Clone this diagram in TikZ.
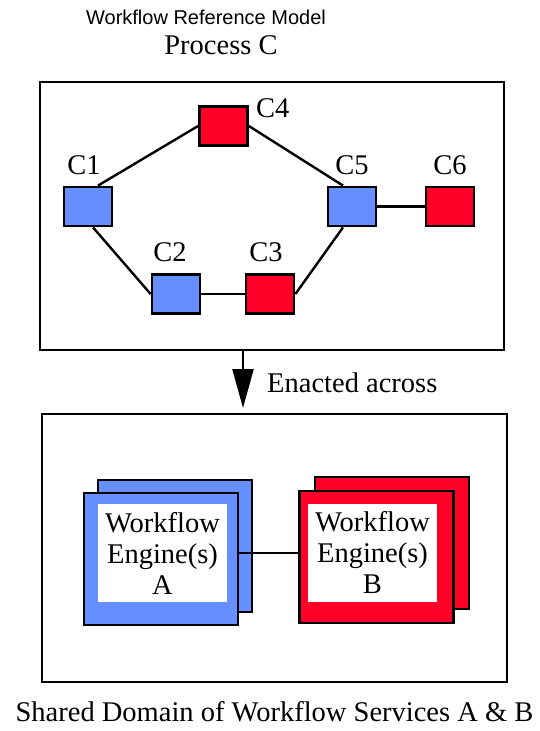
\documentclass[tikz,border=0pt]{standalone}
\usepackage{fontspec}
\setmainfont{Liberation Serif}
\newfontfamily\titelfont{Liberation Sans}
\usetikzlibrary{arrows.meta,positioning}
\definecolor{aktblaa}{RGB}{102,143,255}
\definecolor{aktroed}{RGB}{255,0,41}
\tikzset{
    akt/.style={
           rectangle,
           draw=black, line width=2.8pt,
           minimum width=48pt,
           minimum height=39pt,
           inner sep=0pt},
    blaa/.style={akt, fill=aktblaa},
    roed/.style={akt, fill=aktroed},
    ramme/.style={
           rectangle,
           draw=black, line width=2.8pt,
           inner sep=0pt},
    motor/.style={
           rectangle,
           draw=black, line width=2.8pt,
           minimum width=154pt,
           minimum height=132pt,
           inner sep=0pt},
    motortekst/.style={
           fill=white,
           minimum width=129pt,
           minimum height=98pt,
           inner sep=0pt,
           align=center,
           font=\fontsize{28.5}{31}\selectfont},
    lbl/.style={
           inner sep=1pt,
           font=\fontsize{28.5}{31}\selectfont},
    linje/.style={
           line width=2.4pt},
    pil/.style={
           -{Triangle[width=21pt,length=39pt]},
           line width=2.4pt}
}
\begin{document}
\begin{tikzpicture}[x=1pt, y=-1pt]
        \useasboundingbox (0,0) rectangle (539,731);
        \node[font=\titelfont\fontsize{20}{24}\selectfont] (titel) at (206,17) {Workflow Reference Model};
        \node[lbl] (proces) at (221,45) {Process C};
        % process C
        \node[ramme, minimum width=464pt, minimum height=268pt] (top) at (272,216) {};
        \node[blaa, label={[lbl, label distance=10pt, xshift=-4pt]above:C1}] (C1) at (88,206.5) {};
        \node[blaa, label={[lbl, label distance=10pt, xshift=-6pt]above:C2}] (C2) at (176,294) {};
        \node[roed, label={[lbl, label distance=10pt, xshift=-4pt]above:C3}] (C3) at (270,294) {};
        \node[roed, label={[lbl, anchor=west, label distance=6pt, yshift=18pt]east:C4}] (C4) at (223.5,126) {};
        \node[blaa, label={[lbl, label distance=10pt]above:C5}] (C5) at (352,206.5) {};
        \node[roed, label={[lbl, label distance=10pt]above:C6}] (C6) at (450,206.5) {};
        \draw[linje] ([xshift=10pt]C1.north) -- (C4.west);
        \draw[linje] (C4.east) -- ([xshift=-9pt]C5.north);
        \draw[linje] ([xshift=5pt]C1.south) -- (C2.west);
        \draw[linje] (C2.east) -- (C3.west);
        \draw[linje] (C3.east) -- ([xshift=-9pt]C5.south);
        \draw[linje] (C5.east) -- (C6.west);
        % enacted across
        \coordinate (enact) at (243,408);
        \draw[pil] (top.south -| enact) -- (enact);
        \node[lbl, anchor=west] (enacted) at (266,383) {Enacted across};
        % shared domain
        \node[ramme, minimum width=465pt, minimum height=268pt] (bund) at (274.5,548) {};
        \node[motor, fill=aktblaa] (engAbag) at (175,546) {};
        \node[motor, fill=aktblaa] (engA) at (161,559) {};
        \node[motortekst] (engAtxt) at (162.5,553) {Workflow\\Engine(s)\\A};
        \node[motor, fill=aktroed] (engBbag) at (392,543) {};
        \node[motor, fill=aktroed] (engB) at (376.5,557) {};
        \node[motortekst] (engBtxt) at (372.5,553) {Workflow\\Engine(s)\\B};
        \draw[linje] (engAtxt.east -| engA.east) -- (engBtxt.west -| engB.west);
        \node[lbl] (domaene) at (274.5,712) {Shared Domain of Workflow Services A \& B};
\end{tikzpicture}
\end{document}
